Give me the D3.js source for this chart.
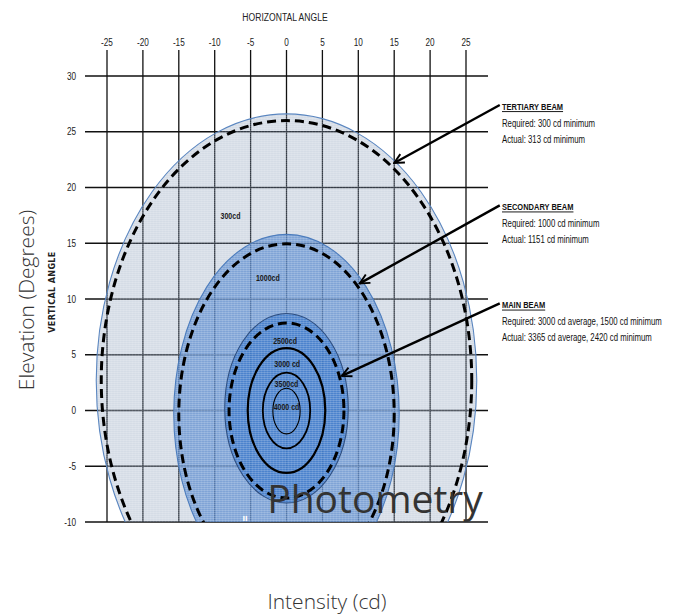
<!DOCTYPE html>
<html><head><meta charset="utf-8">
<script src="https://cdn.jsdelivr.net/npm/d3@7"></script>
<style>
html,body{margin:0;padding:0;background:#fff;}
.cond{font-family:"Liberation Sans","Arimo",sans-serif;}
.big{font-family:"Open Sans","Noto Sans",sans-serif;fill:#333;}
</style></head>
<body><svg id="c" width="673" height="614"></svg>
<script>
// ---- data ----
const xTicks = [-25,-20,-15,-10,-5,0,5,10,15,20,25];
const yTicks = [30,25,20,15,10,5,0,-5,-10];
const beamNames = ["Tertiary","Secondary","Main"];
const beamCx = [0, 0, 0];
const beamCy = [2.7, -0.3, 0.2];
const beamRx = [26.5, 15.7, 8.6];
const beamRy = [23.9, 16.1, 8.5];
const minCy = [2.7, -0.3, 0.0];
const minRx = [25.8, 15.0, 8.0];
const minRy = [23.3, 15.25, 7.85];
const ringCy = [0.0, 0.0, -0.05];
const ringRx = [5.4, 3.3, 1.9];
const ringRy = [5.6, 3.4, 2.05];
const isoLabels = ["300cd","1000cd","2500cd","3000 cd","3500cd","4000 cd"];
const isoLabelX = [-7.8, -2.6, -0.2, 0.1, 0.0, 0.0];
const isoLabelY = [17.5, 11.9, 6.3, 4.2, 2.4, 0.3];
const noteTitles = ["TERTIARY BEAM","SECONDARY BEAM","MAIN BEAM"];
const noteRequired = ["Required: 300 cd minimum","Required: 1000 cd minimum","Required: 3000 cd average, 1500 cd minimum"];
const noteActual = ["Actual: 313 cd minimum","Actual: 1151 cd minimum","Actual: 3365 cd average, 2420 cd minimum"];
const arrowFromX = [29.7, 29.7, 29.7];
const arrowFromY = [27.4, 18.4, 9.6];
const arrowToX = [15.0, 10.2, 7.7];
const arrowToY = [22.2, 11.4, 3.1];

// ---- layout ----
const svg = d3.select("#c");
const x = d3.scaleLinear().domain([-25,25]).range([107,466]);
const y = d3.scaleLinear().domain([-10,30]).range([522,76]);
const sx = d => x(d) - x(0);
const sy = d => y(0) - y(d);
const SQ = 0.78; // horizontal squeeze to imitate a condensed face

function cText(g, px, py, str, size, anchor, bold, fill){
  return g.append("text").attr("class","cond")
    .attr("transform",`translate(${px},${py}) scale(${SQ},1)`)
    .attr("text-anchor",anchor||"start").attr("font-size",size)
    .attr("font-weight",bold?"bold":"normal").attr("fill",fill||"#1a1a1a").text(str);
}

const defs = svg.append("defs");
defs.append("clipPath").attr("id","clip").append("rect")
  .attr("x",0).attr("y",0).attr("width",673).attr("height",y(-10));
const pat = defs.append("pattern").attr("id","tex").attr("patternUnits","userSpaceOnUse")
  .attr("width",3).attr("height",2);
pat.append("rect").attr("x",0).attr("y",0).attr("width",3).attr("height",1).attr("fill","#fff").attr("opacity",0.16);
pat.append("rect").attr("x",0).attr("y",0).attr("width",1).attr("height",2).attr("fill","#fff").attr("opacity",0.08);
defs.append("marker").attr("id","arr").attr("viewBox","0 0 10 10").attr("refX",9).attr("refY",5)
  .attr("markerWidth",5).attr("markerHeight",5).attr("orient","auto").attr("markerUnits","strokeWidth")
  .append("path").attr("d","M1,1 L9,5 L1,9").attr("fill","none").attr("stroke","#000").attr("stroke-width",1.6);

// grid
const grid = svg.append("g");
grid.selectAll("line.v").data(xTicks).join("line")
  .attr("x1",d=>x(d)).attr("x2",d=>x(d)).attr("y1",50).attr("y2",y(-10))
  .attr("stroke","#111").attr("stroke-width",1.3);
grid.selectAll("line.h").data(yTicks).join("line")
  .attr("x1",85).attr("x2",488).attr("y1",d=>y(d)).attr("y2",d=>y(d))
  .attr("stroke","#111").attr("stroke-width",1.6);

// tick labels
const tl = svg.append("g");
xTicks.forEach(d=>cText(tl, x(d), 46, d, 10.5, "middle", false, "#222"));
yTicks.forEach(d=>cText(tl, 76, y(d)+3.5, d, 10.5, "end", false, "#222"));
cText(svg, 285, 21, "HORIZONTAL ANGLE", 11, "middle", false, "#222");
svg.append("text").attr("transform",`translate(55,292) rotate(-90)`).attr("text-anchor","middle")
  .attr("font-family","DejaVu Sans, sans-serif").attr("font-weight","bold").attr("font-size",8)
  .attr("letter-spacing",0.4).attr("fill","#222").text("VERTICAL ANGLE");

// beams
const plot = svg.append("g").attr("clip-path","url(#clip)");
const fills = ["#8195b3","#5f8fd0","#3f7bcb"];
const fop = [0.33, 0.72, 0.8];
const strokes = ["#5a86c0","#4d7dbd","#2f4f80"];
beamNames.forEach((n,i)=>{
  plot.append("ellipse").attr("cx",x(beamCx[i])).attr("cy",y(beamCy[i]))
    .attr("rx",sx(beamRx[i])).attr("ry",sy(beamRy[i]))
    .attr("fill",fills[i]).attr("fill-opacity",fop[i]);
  plot.append("ellipse").attr("cx",x(beamCx[i])).attr("cy",y(beamCy[i]))
    .attr("rx",sx(beamRx[i])).attr("ry",sy(beamRy[i]))
    .attr("fill","url(#tex)").attr("stroke",strokes[i]).attr("stroke-width",1.1);
});
beamNames.forEach((n,i)=>{
  plot.append("ellipse").attr("cx",x(beamCx[i])).attr("cy",y(minCy[i]))
    .attr("rx",sx(minRx[i])).attr("ry",sy(minRy[i]))
    .attr("fill","none").attr("stroke","#000").attr("stroke-width",3).attr("stroke-dasharray","9,5");
});
const ringW = [2.2, 1.8, 1.1];
ringRx.forEach((r,i)=>{
  plot.append("ellipse").attr("cx",x(0)).attr("cy",y(ringCy[i]))
    .attr("rx",sx(ringRx[i])).attr("ry",sy(ringRy[i]))
    .attr("fill","none").attr("stroke","#000").attr("stroke-width",ringW[i]);
});
const lab = svg.append("g");
isoLabels.forEach((d,i)=>cText(lab, x(isoLabelX[i]), y(isoLabelY[i])+3.3, d, 9, "middle", true, "#1a1a1a"));

// arrows
svg.append("g").selectAll("line").data(arrowFromX).join("line")
  .attr("x1",(d,i)=>x(arrowFromX[i])).attr("y1",(d,i)=>y(arrowFromY[i]))
  .attr("x2",(d,i)=>x(arrowToX[i])).attr("y2",(d,i)=>y(arrowToY[i]))
  .attr("stroke","#000").attr("stroke-width",2.4).attr("marker-end","url(#arr)");

// notes
const notes = svg.append("g");
noteTitles.forEach((t,i)=>{
  const ty = y(arrowFromY[i]) + 5;
  cText(notes, 502, ty, t, 9.6, "start", true, "#111").attr("text-decoration","underline");
  cText(notes, 502, ty+17, noteRequired[i], 10, "start", false, "#111");
  cText(notes, 502, ty+33, noteActual[i], 10, "start", false, "#111");
});

svg.append("text").attr("x",245).attr("y",521).attr("text-anchor","middle").attr("font-size",7)
  .attr("font-weight","bold").attr("fill","#fff").attr("font-family","DejaVu Sans, sans-serif").text("II");

// big titles
svg.append("text").attr("class","big").attr("x",375).attr("y",513).attr("text-anchor","middle")
  .attr("font-size",39).attr("font-weight",400).attr("fill","#2a2a2a").text("Photometry");
svg.append("text").attr("class","big").attr("transform","translate(34,300) rotate(-90)").attr("text-anchor","middle")
  .attr("font-size",21).attr("font-weight",300).attr("fill","#2a2a2a").text("Elevation (Degrees)");
svg.append("text").attr("class","big").attr("x",327).attr("y",609).attr("text-anchor","middle")
  .attr("font-size",21).attr("font-weight",300).attr("fill","#2a2a2a").text("Intensity (cd)");
</script></body></html>
